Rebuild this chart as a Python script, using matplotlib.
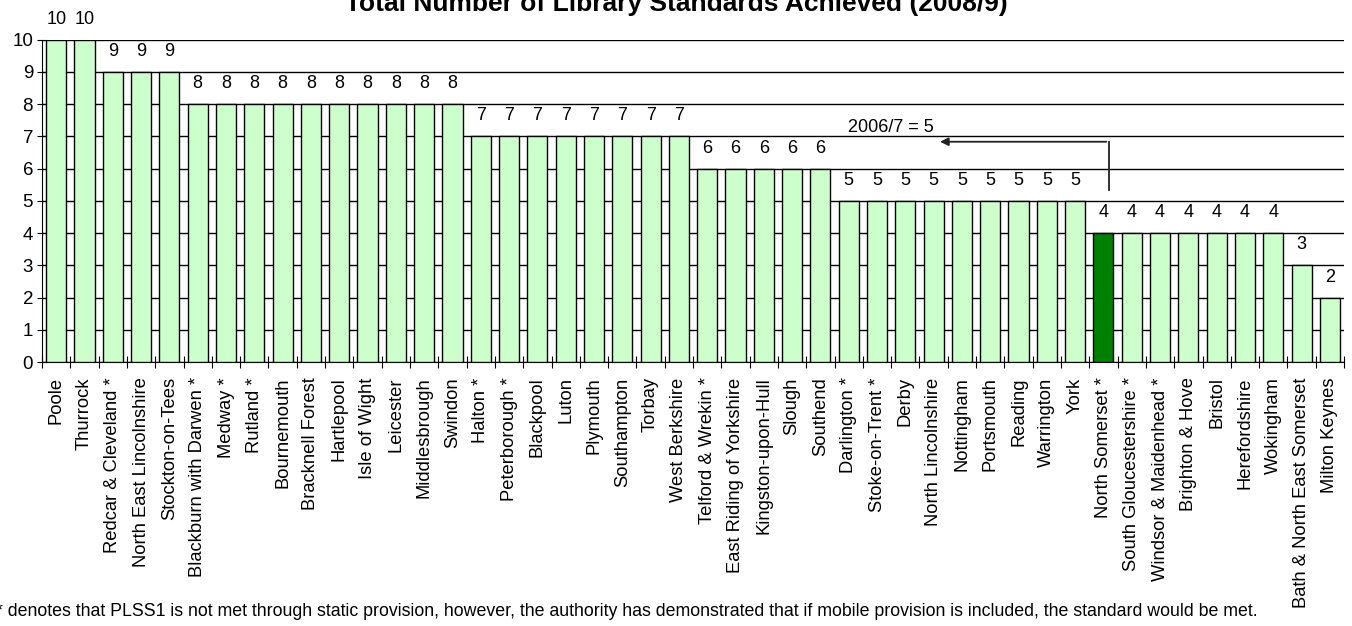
import matplotlib
matplotlib.use('Agg')
import matplotlib.pyplot as plt

plt.rcParams['font.family'] = ['Liberation Sans', 'DejaVu Sans']

authorities = ["Poole", "Thurrock", "Redcar & Cleveland *", "North East Lincolnshire",
               "Stockton-on-Tees", "Blackburn with Darwen *", "Medway *", "Rutland *",
               "Bournemouth", "Bracknell Forest", "Hartlepool", "Isle of Wight", "Leicester",
               "Middlesbrough", "Swindon", "Halton *", "Peterborough *", "Blackpool", "Luton",
               "Plymouth", "Southampton", "Torbay", "West Berkshire", "Telford & Wrekin *",
               "East Riding of Yorkshire", "Kingston-upon-Hull", "Slough", "Southend",
               "Darlington *", "Stoke-on-Trent *", "Derby", "North Lincolnshire", "Nottingham",
               "Portsmouth", "Reading", "Warrington", "York", "North Somerset *",
               "South Gloucestershire *", "Windsor & Maidenhead *", "Brighton & Hove", "Bristol",
               "Herefordshire", "Wokingham", "Bath & North East Somerset", "Milton Keynes"]
standards = [10, 10, 9, 9, 9, 8, 8, 8, 8, 8, 8, 8, 8, 8, 8, 7, 7, 7, 7, 7, 7, 7, 7,
             6, 6, 6, 6, 6, 5, 5, 5, 5, 5, 5, 5, 5, 5, 4, 4, 4, 4, 4, 4, 4, 3, 2]
highlight = "North Somerset *"
previous_label = "2006/7 = 5"

fig = plt.figure(figsize=(13.52, 6.26), dpi=100)
ax = fig.add_axes([0.0311, 0.4217, 0.9630, 0.5152])

x = list(range(len(authorities)))
colors = ['#008000' if a == highlight else '#CCFFCC' for a in authorities]
ax.bar(x, standards, width=0.71, color=colors, edgecolor='black', linewidth=1, zorder=3)

for i, v in enumerate(standards):
    ax.text(i, v + 0.63, str(v), ha='center', va='center', fontsize=13)

ax.set_xlim(-0.5, len(authorities) - 0.5)
ax.set_ylim(0, 10)
ax.set_yticks(range(0, 11))
ax.yaxis.grid(True, color='black', linewidth=1, zorder=0)
ax.tick_params(axis='y', labelsize=13.5, direction='inout', length=7, pad=3)

# boundary ticks, centred labels
ax.set_xticks([i - 0.5 for i in range(len(authorities) + 1)])
ax.set_xticklabels([])
ax.set_xticks(x, minor=True)
ax.set_xticklabels(authorities, minor=True, rotation=90, fontsize=13.2)
ax.tick_params(axis='x', which='major', direction='inout', length=8)
ax.tick_params(axis='x', which='minor', length=0, pad=11)

for s in ['top', 'right']:
    ax.spines[s].set_visible(False)

# 2006/7 marker for North Somerset
hx = authorities.index(highlight) + 0.2
ax.plot([hx, hx], [5.33, 6.83], color='#222222', linewidth=1.3, zorder=4)
ax.annotate('', xy=(31.13, 6.83), xytext=(hx, 6.83),
            arrowprops=dict(arrowstyle='-|>', color='#222222', lw=1.3, mutation_scale=12))
ax.text(27.98, 7.02, previous_label, ha='left', va='bottom', fontsize=13)

fig.text(0.5, 1 - 11 / 626, "Total Number of Library Standards Achieved (2008/9)",
         ha='center', va='baseline', fontsize=19, fontweight='bold')
fig.text(-4 / 1352, 1 - 612 / 626,
         "* denotes that PLSS1 is not met through static provision, however, the authority has "
         "demonstrated that if mobile provision is included, the standard would be met.",
         ha='left', va='center', fontsize=12.8)

fig.savefig('out.png', dpi=100)
